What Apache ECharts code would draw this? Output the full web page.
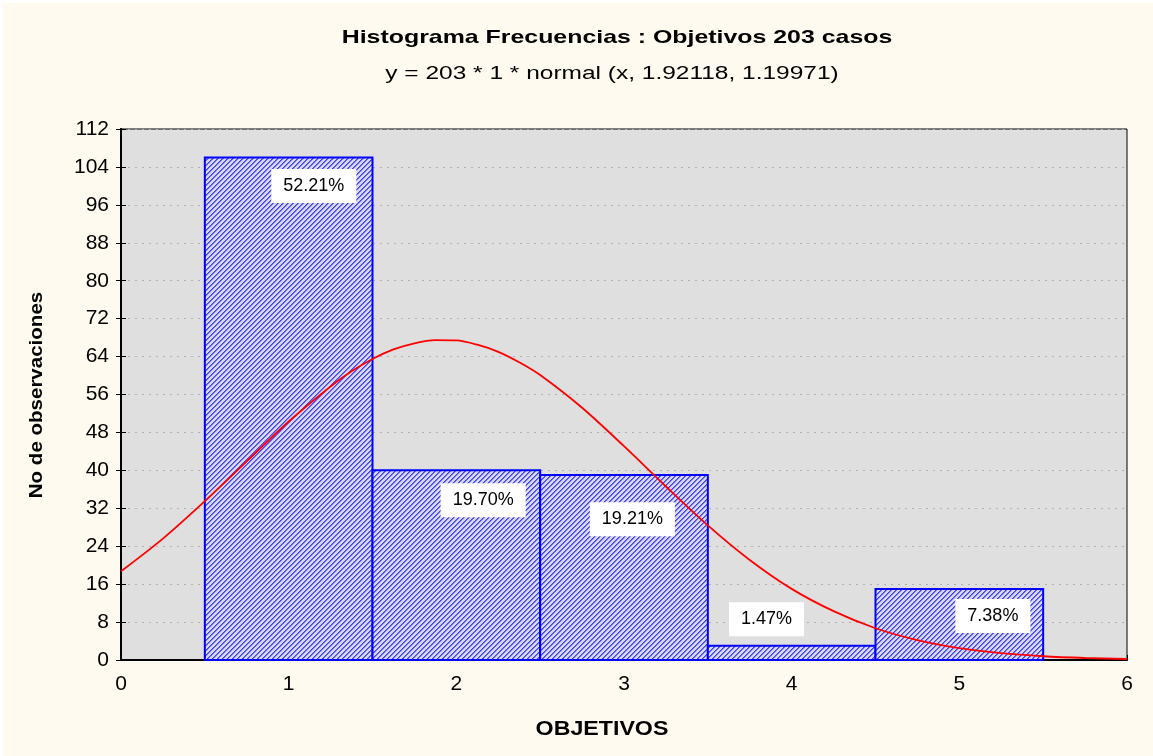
<!DOCTYPE html>
<html><head><meta charset="utf-8">
<script src="https://cdn.jsdelivr.net/npm/echarts@6/dist/echarts.min.js"></script>
<style>html,body{margin:0;padding:0;background:#fff}#c{width:1153px;height:756px}</style>
</head><body><div id="c"></div>
<script>
// Data
var binCenters = [1, 2, 3, 4, 5];
var counts = [106, 40, 39, 3, 15];
var percentLabels = ['52.21%', '19.70%', '19.21%', '1.47%', '7.38%'];
// label anchors (data units)
var labelX = [1.15, 2.16, 3.05, 3.85, 5.2];
var labelY = [100, 33.7, 29.7, 8.6, 9.3];
// fitted normal curve
var curveX = [0,0.25,0.5,0.75,1,1.25,1.375,1.5,1.625,1.75,1.875,2,2.125,2.25,2.375,2.5,2.75,3,3.25,3.5,3.75,4,4.25,4.5,4.75,5,5.25,5.5,5.75,6];
var curveY = [18.7,25.6,33.5,41.9,50.3,57.7,60.9,63.5,65.5,66.8,67.45,67.4,66.5,65.0,62.8,60.1,53.2,45.1,36.6,28.4,21.1,15.0,10.3,6.7,4.2,2.5,1.44,0.79,0.42,0.21];

var titleText = 'Histograma Frecuencias : Objetivos 203 casos';
var subtitleText = 'y = 203 * 1 * normal (x, 1.92118, 1.19971)';
var xName = 'OBJETIVOS';
var yName = 'No de observaciones';

// hatch pattern
var P = 5;
var tile = document.createElement('canvas');
tile.width = P; tile.height = P;
var tctx = tile.getContext('2d');
var img = tctx.createImageData(P,P);
for (var yy=0; yy<P; yy++) for (var xx=0; xx<P; xx++) {
  var d = (xx + yy) % P;
  var k = (yy*P+xx)*4, c;
  if (d === 0) c = [64,64,255];
  else if (d === 1) c = [112,112,250];
  else c = [216,216,236];
  img.data[k]=c[0]; img.data[k+1]=c[1]; img.data[k+2]=c[2]; img.data[k+3]=255;
}
tctx.putImageData(img,0,0);
var hatch = {image: tile, repeat: 'repeat'};

var chart = echarts.init(document.getElementById('c'), null, {renderer:'canvas'});
var font = 'Liberation Sans, Arial, sans-serif';
chart.setOption({
  backgroundColor: '#ffffff',
  animation: false,
  graphic: [
    {type:'rect', shape:{x:3,y:3,width:1150,height:753}, style:{fill:'#FEFAF0'}, z:-10, silent:true},
    {type:'text', x:617, y:38, scaleX:1.31, z:10, style:{text:titleText, font:'bold 19px ' + font, fill:'#000', align:'center', verticalAlign:'middle'}},
    {type:'text', x:612, y:74, scaleX:1.36, z:10, style:{text:subtitleText, font:'18px ' + font, fill:'#000', align:'center', verticalAlign:'middle'}},
    {type:'text', x:602, y:729, scaleX:1.16, z:10, style:{text:xName, font:'bold 20px ' + font, fill:'#000', align:'center', verticalAlign:'middle'}},
    {type:'text', x:37, y:395, rotation:Math.PI/2, scaleX:1.14, z:10, style:{text:yName, font:'bold 18px ' + font, fill:'#000', align:'center', verticalAlign:'middle'}}
  ],
  grid: {left:121, right:26, top:129, bottom:96, show:true, backgroundColor:'#DFDFDF', borderColor:'#000', borderWidth:1},
  xAxis: [{
    type:'value', min:0, max:6, interval:1, position:'bottom',
    axisLine:{lineStyle:{color:'#000', width:2}},
    axisTick:{inside:true, length:5, lineStyle:{color:'#000'}},
    axisLabel:{fontFamily:font, fontSize:21, color:'#000', margin:14},
    splitLine:{show:false}
  },{
    type:'value', min:0, max:6, interval:1, position:'top',
    axisLine:{lineStyle:{color:'#000', width:1}}, axisTick:{show:false}, axisLabel:{show:false}, splitLine:{show:false}
  }],
  yAxis: [{
    type:'value', min:0, max:112, interval:8,
    axisLine:{show:true, lineStyle:{color:'#000', width:2}},
    axisTick:{show:true, inside:true, length:5, lineStyle:{color:'#000'}},
    axisLabel:{fontFamily:font, fontSize:21, color:'#000', margin:12},
    splitLine:{show:true, lineStyle:{color:'#b0b0b0', type:[2,5], width:1}}
  },{
    type:'value', min:0, max:112, interval:8, position:'right',
    axisLine:{show:true, lineStyle:{color:'#000', width:2}},
    axisTick:{show:true, inside:true, length:5, lineStyle:{color:'#000'}},
    axisLabel:{show:false}, splitLine:{show:false}
  }],
  series: [
    {
      type:'custom', xAxisIndex:0, yAxisIndex:0, z:2,
      data: binCenters.map(function(c,i){return [c, counts[i]];}),
      renderItem: function(params, api){
        var x = api.value(0), y = api.value(1);
        var p1 = api.coord([x-0.5, y]);
        var p2 = api.coord([x+0.5, 0]);
        return {type:'rect', shape:{x:p1[0], y:p1[1], width:p2[0]-p1[0], height:p2[1]-p1[1]},
          style:{fill:hatch, stroke:'#0000FF', lineWidth:2}};
      }
    },
    {
      type:'line', xAxisIndex:0, yAxisIndex:0, z:3, smooth:0.3, symbol:'none',
      data: curveX.map(function(x,i){return [x, curveY[i]];}),
      lineStyle:{color:'#FF0000', width:1.8}
    },
    {
      type:'scatter', xAxisIndex:0, yAxisIndex:0, z:4, symbolSize:0,
      itemStyle:{opacity:1},
      data: labelX.map(function(x,i){return [x, labelY[i]];}),
      label:{show:true, position:'inside', formatter:function(p){return percentLabels[p.dataIndex];},
        fontFamily:font, fontSize:18, color:'#000', backgroundColor:'#fff', padding:[8,12], opacity:1}
    }
  ]
});
</script></body></html>
